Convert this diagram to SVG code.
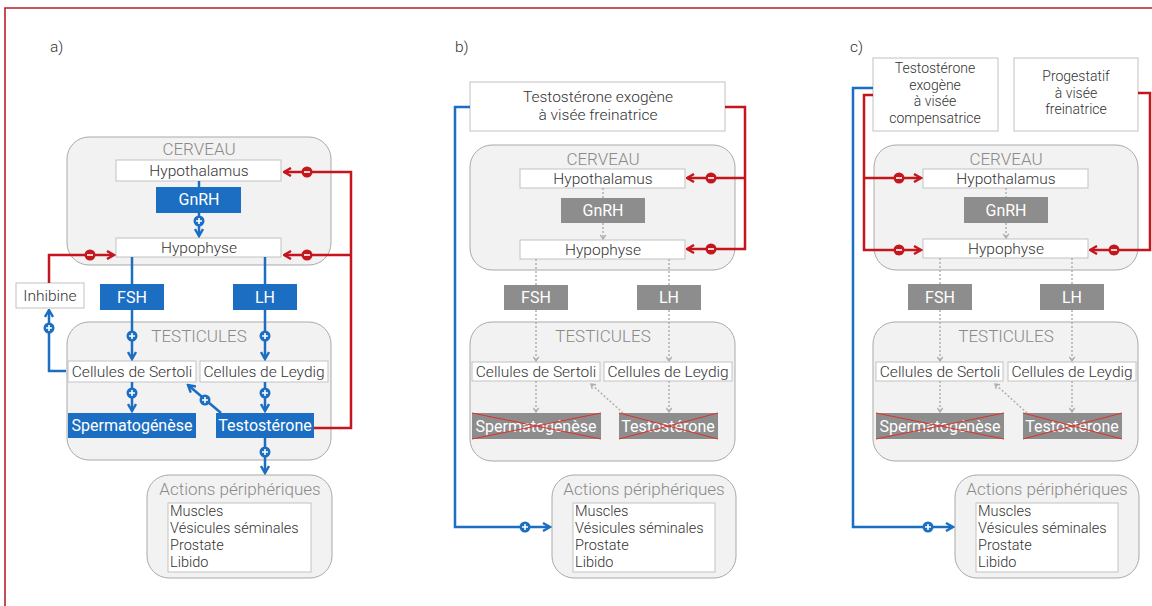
<svg xmlns="http://www.w3.org/2000/svg" xmlns:xlink="http://www.w3.org/1999/xlink" width="1152" height="606" viewBox="0 0 1152 606">
<style>
.pan{fill:#f2f2f2;stroke:#a9a9a9;stroke-width:1}
.wb{fill:#fff;stroke:#c2c2c2;stroke-width:1}
.bb{fill:#1b6ec2}
.gb{fill:#8d8d8d}
.t{font-family:Roboto,"Open Sans","Liberation Sans",sans-serif;font-weight:300;font-size:15.5px;fill:#333;text-anchor:middle}
.m{font-size:14px}
.li{font-size:14.5px}
.tl{text-anchor:start}
.tw{fill:#fff;font-weight:400;font-size:16px}
.th{fill:#8a8a8a;font-size:17px}
.bl{stroke:#1b6ec2;stroke-width:2.5;fill:none}
.rd{stroke:#c4161c;stroke-width:2.5;fill:none}
.dt{stroke:#b0b0b0;stroke-width:1.5;stroke-dasharray:2 2;fill:none}
.x{stroke:#e0302a;stroke-width:1}
</style>
<defs>
<marker id="ab" viewBox="0 0 10 10" refX="8.5" refY="5" markerWidth="10" markerHeight="10" markerUnits="userSpaceOnUse" orient="auto"><path d="M1.5,1 L8.5,5 L1.5,9" fill="none" stroke="#1b6ec2" stroke-width="2.4"/></marker>
<marker id="ar" viewBox="0 0 10 10" refX="8.5" refY="5" markerWidth="10" markerHeight="10" markerUnits="userSpaceOnUse" orient="auto"><path d="M1.5,1 L8.5,5 L1.5,9" fill="none" stroke="#c4161c" stroke-width="2.4"/></marker>
<marker id="ag" viewBox="0 0 10 10" refX="8" refY="5" markerWidth="7" markerHeight="7" markerUnits="userSpaceOnUse" orient="auto"><path d="M2,1 L8,5 L2,9" fill="none" stroke="#b0b0b0" stroke-width="2"/></marker>
<g id="plus"><circle r="5.5" fill="#1b6ec2"/><path d="M-3,0H3M0,-3V3" stroke="#fff" stroke-width="1.6"/></g>
<g id="minus"><circle r="5.5" fill="#c4161c"/><path d="M-3,0H3" stroke="#fff" stroke-width="1.6"/></g>
</defs>
<rect width="1152" height="606" fill="#fff"/>
<path d="M5,606 V8 H1152" fill="none" stroke="#b8202a" stroke-width="1.6"/>

<g id="labels">
<text class="t tl" x="50" y="52">a)</text>
<text class="t tl" x="455" y="52">b)</text>
<text class="t tl" x="850" y="52">c)</text>
</g>

<!-- ===== Panel a ===== -->
<g id="a-cerveau"><rect class="pan" x="67" y="137" width="264" height="128" rx="22"/><text class="t th" x="199" y="155">CERVEAU</text></g>
<g id="a-hypothalamus"><rect class="wb" x="116" y="160" width="165" height="21"/><text class="t" x="199" y="176">Hypothalamus</text></g>
<g id="a-gnrh"><rect class="bb" x="156" y="187" width="85" height="26"/><text class="t tw" x="199" y="205">GnRH</text></g>
<g id="a-hypophyse"><rect class="wb" x="116" y="238" width="165" height="19"/><text class="t" x="199" y="253">Hypophyse</text></g>
<g id="a-inhibine"><rect class="wb" x="16" y="283" width="68" height="25"/><text class="t" x="50" y="301">Inhibine</text></g>
<g id="a-fsh"><rect class="bb" x="100" y="284" width="64" height="26"/><text class="t tw" x="132" y="303">FSH</text></g>
<g id="a-lh"><rect class="bb" x="233" y="284" width="64" height="26"/><text class="t tw" x="265" y="303">LH</text></g>
<g id="a-testicules"><rect class="pan" x="67" y="322" width="264" height="138" rx="22"/><text class="t th" x="199" y="342">TESTICULES</text></g>
<g id="a-sertoli"><rect class="wb" x="68" y="361" width="128" height="21"/><text class="t" x="132" y="377">Cellules de Sertoli</text></g>
<g id="a-leydig"><rect class="wb" x="200" y="361" width="128" height="21"/><text class="t" x="264" y="377">Cellules de Leydig</text></g>
<g id="a-spermato"><rect class="bb" x="68" y="413" width="128" height="25"/><text class="t tw" x="132" y="431">Spermatogénèse</text></g>
<g id="a-testo"><rect class="bb" x="216" y="413" width="98" height="25"/><text class="t tw" x="265" y="431">Testostérone</text></g>
<g id="a-actions"><rect class="pan" x="147" y="475" width="185" height="103" rx="22"/><text class="t th" x="240" y="495">Actions périphériques</text>
<rect class="wb" x="168" y="503" width="143" height="69"/>
<text class="t tl li" x="170" y="516">Muscles</text><text class="t tl li" x="170" y="533">Vésicules séminales</text><text class="t tl li" x="170" y="550">Prostate</text><text class="t tl li" x="170" y="567">Libido</text></g>

<!-- ===== Panel b ===== -->
<g id="b-exo"><rect class="wb" x="470" y="82" width="255" height="49"/><text class="t" x="598" y="102">Testostérone exogène</text><text class="t" x="598" y="120">à visée freinatrice</text></g>
<g id="b-cerveau"><rect class="pan" x="470" y="145" width="265" height="125" rx="22"/><text class="t th" x="603" y="165">CERVEAU</text></g>
<g id="b-hypothalamus"><rect class="wb" x="520" y="169" width="165" height="19"/><text class="t" x="603" y="184">Hypothalamus</text></g>
<g id="b-gnrh"><rect class="gb" x="561" y="198" width="84" height="25"/><text class="t tw" x="603" y="216">GnRH</text></g>
<g id="b-hypophyse"><rect class="wb" x="520" y="240" width="165" height="19"/><text class="t" x="603" y="255">Hypophyse</text></g>
<g id="b-fsh"><rect class="gb" x="504" y="285" width="64" height="25"/><text class="t tw" x="536" y="303">FSH</text></g>
<g id="b-lh"><rect class="gb" x="637" y="285" width="64" height="25"/><text class="t tw" x="669" y="303">LH</text></g>
<g id="b-testicules"><rect class="pan" x="470" y="322" width="265" height="139" rx="22"/><text class="t th" x="603" y="342">TESTICULES</text></g>
<g id="b-sertoli"><rect class="wb" x="472" y="362" width="128" height="19"/><text class="t" x="536" y="377">Cellules de Sertoli</text></g>
<g id="b-leydig"><rect class="wb" x="604" y="362" width="128" height="19"/><text class="t" x="668" y="377">Cellules de Leydig</text></g>
<g id="b-spermato"><rect class="gb" x="472" y="413" width="129" height="26"/><text class="t tw" x="536" y="432">Spermatogénèse</text><path class="x" d="M472,413 L601,439 M601,413 L472,439"/></g>
<g id="b-testo"><rect class="gb" x="619" y="413" width="99" height="26"/><text class="t tw" x="668" y="432">Testostérone</text><path class="x" d="M619,413 L718,439 M718,413 L619,439"/></g>
<g id="b-actions"><rect class="pan" x="552" y="475" width="184" height="103" rx="22"/><text class="t th" x="644" y="495">Actions périphériques</text>
<rect class="wb" x="573" y="503" width="142" height="69"/>
<text class="t tl li" x="575" y="516">Muscles</text><text class="t tl li" x="575" y="533">Vésicules séminales</text><text class="t tl li" x="575" y="550">Prostate</text><text class="t tl li" x="575" y="567">Libido</text></g>

<!-- ===== Panel c ===== -->
<g id="c-exo"><rect class="wb" x="873" y="58" width="125" height="73"/><text class="t m" x="935" y="73">Testostérone</text><text class="t m" x="935" y="89.5">exogène</text><text class="t m" x="935" y="106">à visée</text><text class="t m" x="935" y="122.5">compensatrice</text></g>
<g id="c-progestatif"><rect class="wb" x="1014" y="58" width="124" height="73"/><text class="t m" x="1076" y="81">Progestatif</text><text class="t m" x="1076" y="97.5">à visée</text><text class="t m" x="1076" y="114">freinatrice</text></g>
<g id="c-cerveau"><rect class="pan" x="874" y="145" width="264" height="125" rx="22"/><text class="t th" x="1006" y="165">CERVEAU</text></g>
<g id="c-hypothalamus"><rect class="wb" x="923" y="169" width="165" height="19"/><text class="t" x="1006" y="184">Hypothalamus</text></g>
<g id="c-gnrh"><rect class="gb" x="964" y="197" width="84" height="26"/><text class="t tw" x="1006" y="216">GnRH</text></g>
<g id="c-hypophyse"><rect class="wb" x="923" y="239" width="165" height="19"/><text class="t" x="1006" y="254">Hypophyse</text></g>
<g id="c-fsh"><rect class="gb" x="908" y="284" width="64" height="26"/><text class="t tw" x="940" y="303">FSH</text></g>
<g id="c-lh"><rect class="gb" x="1040" y="284" width="64" height="26"/><text class="t tw" x="1072" y="303">LH</text></g>
<g id="c-testicules"><rect class="pan" x="873" y="322" width="265" height="139" rx="22"/><text class="t th" x="1006" y="342">TESTICULES</text></g>
<g id="c-sertoli"><rect class="wb" x="876" y="362" width="127" height="19"/><text class="t" x="940" y="377">Cellules de Sertoli</text></g>
<g id="c-leydig"><rect class="wb" x="1008" y="362" width="128" height="19"/><text class="t" x="1072" y="377">Cellules de Leydig</text></g>
<g id="c-spermato"><rect class="gb" x="876" y="413" width="128" height="26"/><text class="t tw" x="940" y="432">Spermatogénèse</text><path class="x" d="M876,413 L1004,439 M1004,413 L876,439"/></g>
<g id="c-testo"><rect class="gb" x="1023" y="413" width="99" height="26"/><text class="t tw" x="1072" y="432">Testostérone</text><path class="x" d="M1023,413 L1122,439 M1122,413 L1023,439"/></g>
<g id="c-actions"><rect class="pan" x="955" y="475" width="184" height="103" rx="22"/><text class="t th" x="1047" y="495">Actions périphériques</text>
<rect class="wb" x="976" y="503" width="142" height="69"/>
<text class="t tl li" x="978" y="516">Muscles</text><text class="t tl li" x="978" y="533">Vésicules séminales</text><text class="t tl li" x="978" y="550">Prostate</text><text class="t tl li" x="978" y="567">Libido</text></g>

<g id="connectors">
<!-- panel a blue -->
<path class="bl" d="M199,181 V187"/>
<path class="bl" d="M199,213 V236" marker-end="url(#ab)"/>
<path class="bl" d="M132,257 V284"/>
<path class="bl" d="M132,310 V359" marker-end="url(#ab)"/>
<path class="bl" d="M265,257 V284"/>
<path class="bl" d="M265,310 V359" marker-end="url(#ab)"/>
<path class="bl" d="M66,371 H49 V310" marker-end="url(#ab)"/>
<path class="bl" d="M132,382 V411" marker-end="url(#ab)"/>
<path class="bl" d="M265,382 V411" marker-end="url(#ab)"/>
<path class="bl" d="M221,413 L188,385" marker-end="url(#ab)"/>
<path class="bl" d="M265,438 V473" marker-end="url(#ab)"/>
<!-- panel a red -->
<path class="rd" d="M314,428 H351 V172 H284" marker-end="url(#ar)"/>
<path class="rd" d="M351,255 H284" marker-end="url(#ar)"/>
<path class="rd" d="M49,283 V255 H114" marker-end="url(#ar)"/>
<!-- panel b -->
<path class="bl" d="M470,107 H455 V527 H550" marker-end="url(#ab)"/>
<path class="rd" d="M725,107 H745 V249 H687" marker-end="url(#ar)"/>
<path class="rd" d="M745,178 H687" marker-end="url(#ar)"/>
<path class="dt" d="M603,188 V198"/>
<path class="dt" d="M603,223 V239" marker-end="url(#ag)"/>
<path class="dt" d="M536,259 V285"/>
<path class="dt" d="M536,310 V361" marker-end="url(#ag)"/>
<path class="dt" d="M669,259 V285"/>
<path class="dt" d="M669,310 V361" marker-end="url(#ag)"/>
<path class="dt" d="M536,381 V412" marker-end="url(#ag)"/>
<path class="dt" d="M669,381 V412" marker-end="url(#ag)"/>
<path class="dt" d="M623,413 L591,384" marker-end="url(#ag)"/>
<!-- panel c -->
<path class="bl" d="M873,88 H853 V527 H953" marker-end="url(#ab)"/>
<path class="rd" d="M873,95 H864 V250 H921" marker-end="url(#ar)"/>
<path class="rd" d="M864,178 H921" marker-end="url(#ar)"/>
<path class="rd" d="M1138,93 H1150 V250 H1090" marker-end="url(#ar)"/>
<path class="dt" d="M1006,188 V197"/>
<path class="dt" d="M1006,223 V238" marker-end="url(#ag)"/>
<path class="dt" d="M940,258 V284"/>
<path class="dt" d="M940,310 V361" marker-end="url(#ag)"/>
<path class="dt" d="M1072,258 V284"/>
<path class="dt" d="M1072,310 V361" marker-end="url(#ag)"/>
<path class="dt" d="M940,381 V412" marker-end="url(#ag)"/>
<path class="dt" d="M1072,381 V412" marker-end="url(#ag)"/>
<path class="dt" d="M1027,413 L995,384" marker-end="url(#ag)"/>
<!-- symbols -->
<use href="#plus" x="199" y="221"/>
<use href="#plus" x="132" y="336"/>
<use href="#plus" x="265" y="336"/>
<use href="#plus" x="49" y="328"/>
<use href="#plus" x="132" y="393"/>
<use href="#plus" x="265" y="393"/>
<use href="#plus" x="205" y="400"/>
<use href="#plus" x="265" y="452"/>
<use href="#minus" x="307" y="172"/>
<use href="#minus" x="307" y="255"/>
<use href="#minus" x="90" y="255"/>
<use href="#plus" x="525" y="527"/>
<use href="#minus" x="711" y="178"/>
<use href="#minus" x="711" y="249"/>
<use href="#plus" x="928" y="527"/>
<use href="#minus" x="899" y="178"/>
<use href="#minus" x="899" y="250"/>
<use href="#minus" x="1114" y="250"/>
</g>
</svg>
